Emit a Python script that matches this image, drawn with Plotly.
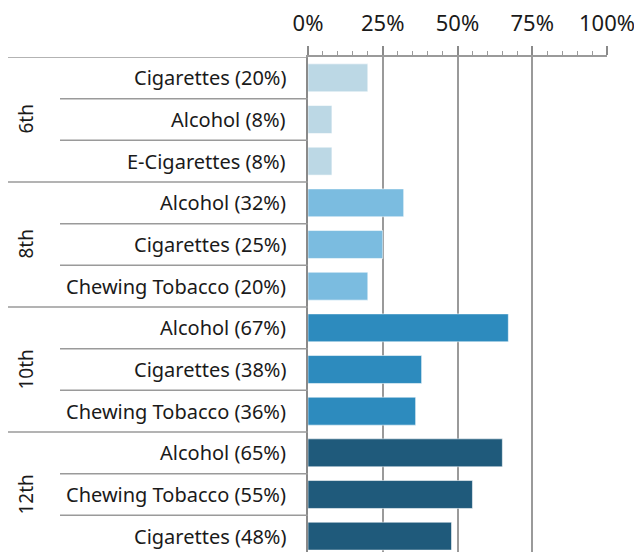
import plotly.graph_objects as go

grades = ["6th", "8th", "10th", "12th"]
grade_colors = ["#bcd8e5", "#7bbce0", "#2d8bbe", "#1f5a7b"]
items = [
    ["Cigarettes", "Alcohol", "E-Cigarettes"],
    ["Alcohol", "Cigarettes", "Chewing Tobacco"],
    ["Alcohol", "Cigarettes", "Chewing Tobacco"],
    ["Alcohol", "Chewing Tobacco", "Cigarettes"],
]
values = [
    [20, 8, 8],
    [32, 25, 20],
    [67, 38, 36],
    [65, 55, 48],
]
x_ticks = [0, 25, 50, 75, 100]
x_tick_labels = ["0%", "25%", "50%", "75%", "100%"]

FONT = "Noto Sans"
GRID = "#9a9a9a"
AXIS = "#8a8a8a"
# page has 8px body margin; figure coordinates are page - 8
L, T = 300, 49
PW = 299
W = 634

fig = go.Figure()
annotations = []
shapes = []
row = 0
label_x = (280 - L) / PW
for gi, g in enumerate(grades):
    ys = []
    for name, v in zip(items[gi], values[gi]):
        ys.append(row)
        annotations.append(dict(
            x=label_x, xref="paper", y=row, yref="y", text=f"{name} ({v}%)",
            showarrow=False, xanchor="right", yanchor="middle",
            font=dict(family=FONT, size=20, color="#1a1a1a")))
        row += 1
    fig.add_trace(go.Bar(
        x=values[gi], y=ys, orientation="h", width=0.67,
        marker=dict(color=grade_colors[gi], line=dict(color="rgba(255,255,255,0.55)", width=1)),
        showlegend=False, hoverinfo="skip"))
    annotations.append(dict(
        x=(17 - L) / PW, xref="paper", y=sum(ys) / len(ys), yref="y", text=g,
        showarrow=False, textangle=-90, xanchor="center", yanchor="middle",
        font=dict(family=FONT, size=19, color="#1a1a1a")))
    shapes.append(dict(type="line", xref="paper", yref="y", x0=(0 - L) / PW, x1=0,
                       y0=ys[0] - 0.5, y1=ys[0] - 0.5, line=dict(color=GRID, width=1.5)))
    for y in ys[1:]:
        shapes.append(dict(type="line", xref="paper", yref="y", x0=(52 - L) / PW, x1=0,
                           y0=y - 0.5, y1=y - 0.5, line=dict(color=GRID, width=1.5)))

fig.update_layout(
    width=W, height=544,
    margin=dict(l=L, r=W - L - PW, t=T, b=0),
    paper_bgcolor="white", plot_bgcolor="white",
    annotations=annotations, shapes=shapes,
    font=dict(family=FONT, color="#1a1a1a"),
)
fig.update_xaxes(
    side="top", range=[0, 100], tickvals=x_ticks, ticktext=x_tick_labels,
    tickfont=dict(family=FONT, size=22, color="#1a1a1a"),
    ticks="outside", ticklen=9, tickwidth=2, tickcolor=AXIS,
    showgrid=True, gridcolor=GRID, gridwidth=2, zeroline=False,
    showline=True, linecolor=GRID, linewidth=1.5,
    minor=dict(dtick=5, ticks="outside", ticklen=4, tickwidth=1, tickcolor=GRID, showgrid=False),
    ticklabelstandoff=6, ticklabeloverflow="allow", fixedrange=True,
)
fig.update_yaxes(
    range=[11.38, -0.5], showticklabels=False, showgrid=False, zeroline=False,
    showline=True, linecolor=AXIS, linewidth=2, ticks="", fixedrange=True,
)
fig.write_html("out.html")
